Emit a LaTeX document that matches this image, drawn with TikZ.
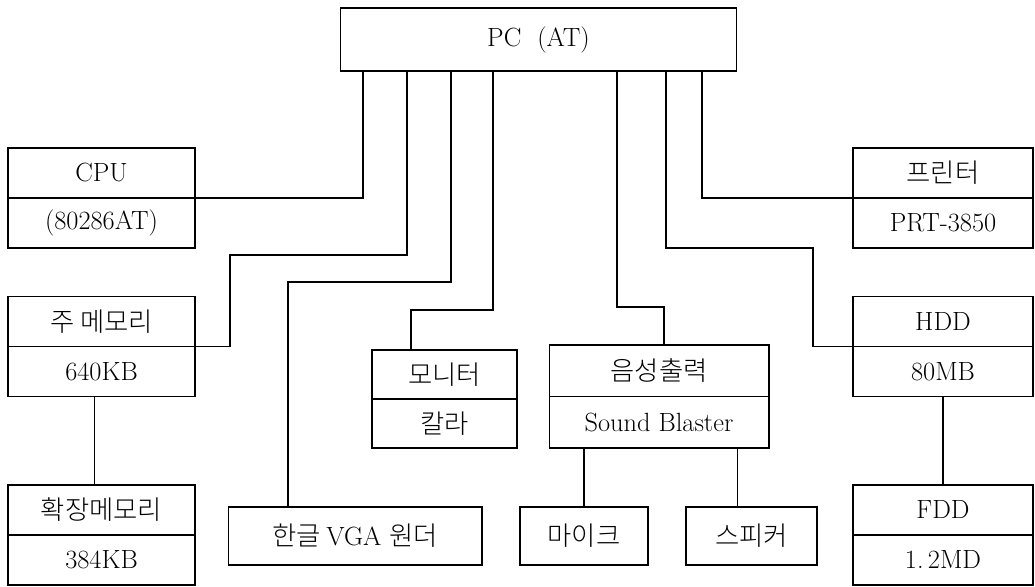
\documentclass[tikz,border=0pt]{standalone}
\usepackage{fontspec}
\newfontfamily\kr{Noto Sans CJK KR}[UprightFont=* Light]
\usetikzlibrary{positioning,calc}

\tikzset{
  box/.style={draw, rectangle, inner sep=0pt, outer sep=0pt, minimum height=1cm},
  link/.style={draw, line width=0.6pt},
}

\begin{document}
\begin{tikzpicture}[x=0.02cm, y=-0.02cm, line width=0.6pt,
    font=\fontsize{15}{17}\selectfont, node distance=0pt]
    \useasboundingbox (0,0) rectangle (1035,587);

    % top box
    \node[box, minimum width=7.94cm, minimum height=1.26cm] (pc) at (538.5,39.5) {PC\ \ (AT)};

    % left column
    \node[box, minimum width=3.74cm] (cpu) at (101.5,173) {CPU};
    \node[box, minimum width=3.74cm, below=of cpu] (cpuv) {(80286AT)};
    \node[box, minimum width=3.74cm] (mem) at (101.5,321.5) {\kr 주 메모리};
    \node[box, minimum width=3.74cm, below=of mem] (memv) {640KB};
    \node[box, minimum width=3.74cm] (xmem) at (101.5,510) {\kr 확장메모리};
    \node[box, minimum width=3.74cm, below=of xmem] (xmemv) {384KB};

    % middle
    \node[box, minimum width=2.9cm, minimum height=0.98cm] (mon) at (444.5,374.5) {\kr 모니터};
    \node[box, minimum width=2.9cm, minimum height=0.98cm, below=of mon] (monv) {\kr 칼라};
    \node[box, minimum width=4.4cm, minimum height=1.03cm] (snd) at (659,370.75) {\kr 음성출력};
    \node[box, minimum width=4.4cm, minimum height=1.03cm, below=of snd] (sndv) {Sound Blaster};
    \node[box, minimum width=5.08cm, minimum height=1.16cm] (vga) at (355,536) {\kr 한글 \rmfamily VGA \kr 원더};
    \node[box, minimum width=2.56cm, minimum height=1.16cm] (mic) at (584,536) {\kr 마이크};
    \node[box, minimum width=2.62cm, minimum height=1.16cm] (spk) at (751.5,536) {\kr 스피커};

    % right column
    \node[box, minimum width=3.6cm] (prn) at (943,173) {\kr 프린터};
    \node[box, minimum width=3.6cm, below=of prn] (prnv) {PRT-3850};
    \node[box, minimum width=3.6cm] (hdd) at (943,321.5) {HDD};
    \node[box, minimum width=3.6cm, below=of hdd] (hddv) {80MB};
    \node[box, minimum width=3.6cm] (fdd) at (943,510) {FDD};
    \node[box, minimum width=3.6cm, below=of fdd] (fddv) {1.\,2MD};

    % taps on the bottom of the pc box
    \coordinate (p1) at (363,71);
    \coordinate (p2) at (407,71);
    \coordinate (p3) at (451,71);
    \coordinate (p4) at (493,71);
    \coordinate (p5) at (617,71);
    \coordinate (p6) at (666,71);
    \coordinate (p7) at (702,71);

    % bends
    \coordinate (k2) at (230,255);
    \coordinate (k3) at (288,282);
    \coordinate (k4) at (411,310);
    \coordinate (k5) at (664,307);
    \coordinate (k6) at (813,248);
    \coordinate (m1) at ($(xmem.north)+(-7,0)$);
    \coordinate (s2) at ($(spk.north)+(-14,0)$);

    \draw[link] (p1) |- (cpu.south east);
    \draw[link] (p2) |- (k2) |- (mem.south east);
    \draw[link] (p3) |- (k3) -- (k3 |- vga.north);
    \draw[link] (p4) |- (k4) -- (k4 |- mon.north);
    \draw[link] (p5) |- (k5) -- (k5 |- snd.north);
    \draw[link] (p6) |- (k6) |- (hdd.south west);
    \draw[link] (p7) |- (prn.south west);

    \draw[link] (m1) -- (m1 |- memv.south);
    \draw[link] (mic.north) -- (mic.north |- sndv.south);
    \draw[link] (s2) -- (s2 |- sndv.south);
    \draw[link] (fdd.north) -- (hddv.south);
\end{tikzpicture}
\end{document}
